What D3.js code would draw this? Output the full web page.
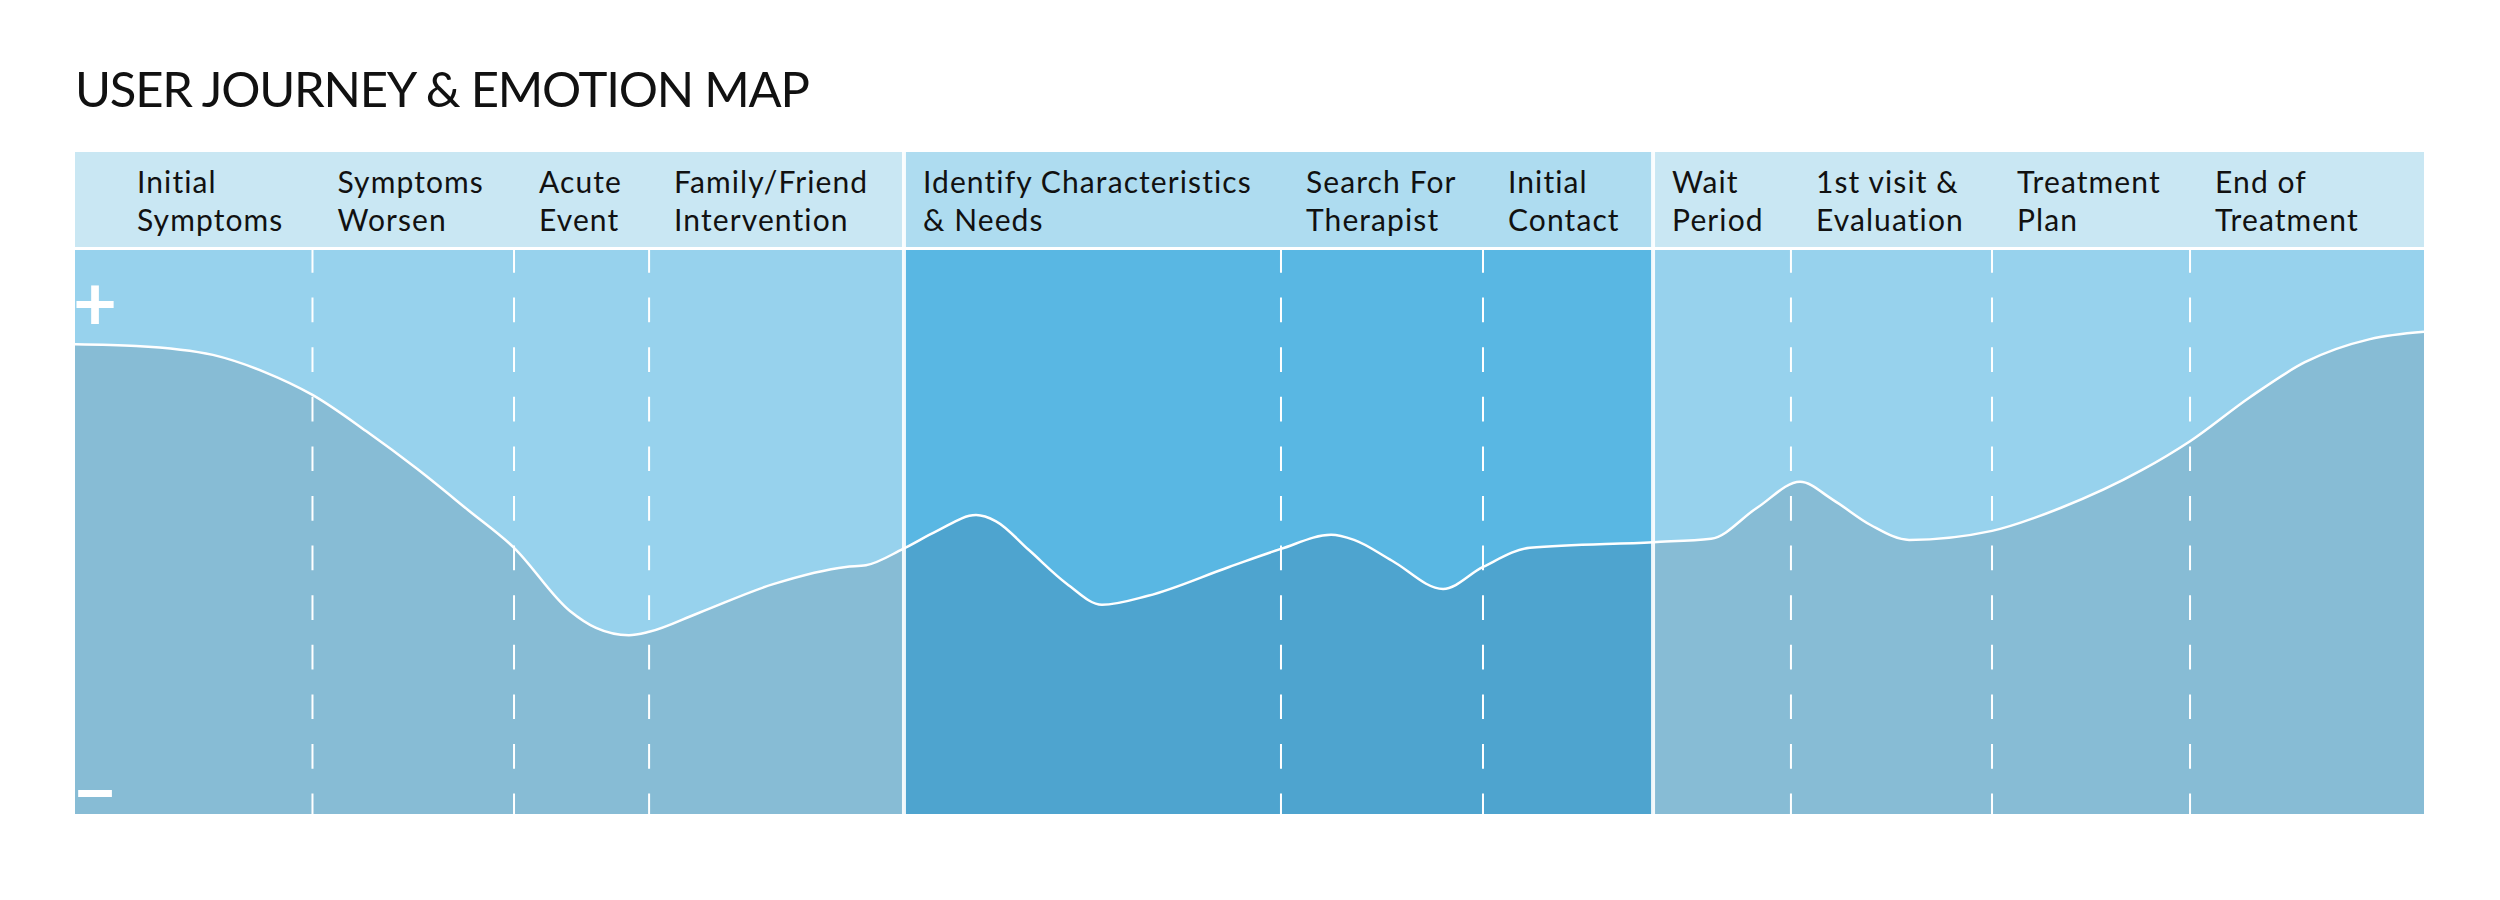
<!DOCTYPE html>
<html>
<head>
<meta charset="utf-8">
<script src="https://cdn.jsdelivr.net/npm/d3@7/dist/d3.min.js"></script>
<style>
  html, body { margin: 0; padding: 0; background: #ffffff; }
  svg { display: block; }
</style>
</head>
<body>
<svg id="chart" width="2500" height="900"></svg>
<script>
// ---------------- DATA ----------------
const title = "USER JOURNEY & EMOTION MAP";

// journey steps (two-line labels) and where each step starts on the 0–100 journey axis
const stepLabels = [
  ["Initial", "Symptoms"],
  ["Symptoms", "Worsen"],
  ["Acute", "Event"],
  ["Family/Friend", "Intervention"],
  ["Identify Characteristics", "& Needs"],
  ["Search For", "Therapist"],
  ["Initial", "Contact"],
  ["Wait", "Period"],
  ["1st visit &", "Evaluation"],
  ["Treatment", "Plan"],
  ["End of", "Treatment"]
];
const stepStarts = [0, 10.11, 18.69, 24.44, 35.29, 51.34, 59.94, 67.18, 73.05, 81.61, 90.04];

// three phases (bounded by solid dividers)
const phaseBounds = [0, 35.29, 67.18, 100];

// emotion curve: journey position (0–100) and emotion level (0 = "−", 100 = top)
const emotionX = [0, 2.60, 5.87, 8.05, 10.11, 12.39, 14.56, 16.73, 18.69, 21.07, 22.18, 23.58, 24.44,
  26.52, 29.76, 32.82, 33.67, 35.25, 36.70, 38.36, 39.21, 40.61, 42.23, 43.72, 45.68, 49.13, 51.34,
  53.47, 54.45, 56.07, 58.24, 59.94, 61.94, 67.18, 69.65, 71.61, 73.44, 74.84, 76.46, 78.08, 81.61,
  84.55, 88.00, 90.04, 92.59, 94.93, 97.70, 100];
const emotionY = [83.3, 83.0, 81.4, 78.4, 74.3, 67.9, 61.2, 53.9, 47.2, 36.0, 33.0, 31.7, 32.3,
  35.6, 40.8, 43.8, 44.1, 47.0, 50.2, 53.0, 51.9, 46.8, 40.8, 37.1, 38.7, 43.8, 47.0,
  49.5, 48.6, 44.9, 39.9, 43.8, 47.2, 48.2, 48.8, 54.3, 58.9, 55.7, 51.2, 48.6, 50.2,
  54.3, 61.0, 66.1, 73.9, 80.1, 84.2, 85.5];

const axisMarks = ["+", "\u2212"];

// ---------------- STYLE ----------------
const headerColors = ["#c9e7f3", "#aedcf0", "#c9e7f3"];
const upperColors  = ["#97d2ed", "#59b7e3", "#97d2ed"];
const lowerColors  = ["#87bcd5", "#4ea4cf", "#87bcd5"];
const FONT = "Lato, 'Open Sans', sans-serif";

const headerTop = 152, headerBottom = 247, bodyTop = 250, bodyBottom = 814;

const svg = d3.select("#chart");
const x = d3.scaleLinear().domain([0, 100]).range([75, 2424]);
const y = d3.scaleLinear().domain([0, 100]).range([bodyBottom, bodyTop]);

// title
const titleEl = svg.append("text")
  .attr("x", 75).attr("y", 107)
  .attr("font-family", FONT).attr("font-size", 49)
  .attr("fill", "#111").text(title);
{
  const w = titleEl.node().getComputedTextLength();
  const ls = (735 - w) / (title.length - 1);
  titleEl.attr("letter-spacing", ls);
}

const phases = d3.range(phaseBounds.length - 1).map(i => ({ i, a: phaseBounds[i], b: phaseBounds[i + 1] }));

// header band
svg.selectAll("rect.head").data(phases).join("rect")
  .attr("x", d => x(d.a)).attr("y", headerTop)
  .attr("width", d => x(d.b) - x(d.a)).attr("height", headerBottom - headerTop)
  .attr("fill", d => headerColors[d.i]);

// body upper colour
svg.selectAll("rect.body").data(phases).join("rect")
  .attr("x", d => x(d.a)).attr("y", bodyTop)
  .attr("width", d => x(d.b) - x(d.a)).attr("height", bodyBottom - bodyTop)
  .attr("fill", d => upperColors[d.i]);

// clip paths per phase
const defs = svg.append("defs");
phases.forEach(p => {
  defs.append("clipPath").attr("id", "clip" + p.i)
    .append("rect").attr("x", x(p.a)).attr("y", bodyTop)
    .attr("width", x(p.b) - x(p.a)).attr("height", bodyBottom - bodyTop);
});

const pts = emotionX.map((v, k) => [v, emotionY[k]]);
const area = d3.area().x(d => x(d[0])).y0(y(0)).y1(d => y(d[1])).curve(d3.curveMonotoneX);
const line = d3.line().x(d => x(d[0])).y(d => y(d[1])).curve(d3.curveMonotoneX);

phases.forEach(p => {
  svg.append("path").datum(pts)
    .attr("clip-path", "url(#clip" + p.i + ")")
    .attr("fill", lowerColors[p.i]).attr("d", area);
});

// dashed step separators
const dashed = stepStarts.filter(s => !phaseBounds.includes(s));
svg.selectAll("line.step").data(dashed).join("line")
  .attr("x1", d => x(d)).attr("x2", d => x(d))
  .attr("y1", bodyTop - 2).attr("y2", bodyBottom)
  .attr("stroke", "#fff").attr("stroke-width", 2)
  .attr("stroke-dasharray", "24.7 24.9");

// white header/body separator
svg.append("rect").attr("x", x(0)).attr("y", headerBottom)
  .attr("width", x(100) - x(0)).attr("height", bodyTop - headerBottom).attr("fill", "#fff");

// phase dividers
svg.selectAll("line.phase").data(phaseBounds.slice(1, -1)).join("line")
  .attr("x1", d => x(d)).attr("x2", d => x(d))
  .attr("y1", headerTop).attr("y2", bodyBottom)
  .attr("stroke", "#fff").attr("stroke-width", 4).attr("stroke-opacity", 0.9);

// emotion line
svg.append("path").datum(pts)
  .attr("fill", "none").attr("stroke", "#fff").attr("stroke-width", 2.5)
  .attr("d", line);

// step labels
const labelG = svg.selectAll("text.step").data(stepLabels).join("text")
  .attr("font-family", FONT).attr("font-size", 30).attr("fill", "#111")
  .attr("letter-spacing", 1.1)
  .attr("transform", (d, k) => {
    const s = stepStarts[k];
    const pad = k === 0 ? 62 : (phaseBounds.includes(s) ? 19 : 25);
    return `translate(${x(s) + pad},0)`;
  });
labelG.selectAll("tspan").data(d => d).join("tspan")
  .attr("x", 0).attr("y", (d, k) => k === 0 ? 193 : 231).text(d => d);

// + / − marks
svg.selectAll("text.mark").data(axisMarks).join("text")
  .attr("x", 95).attr("y", (d, k) => k === 0 ? y(100) + 80 : y(0) + 5)
  .attr("text-anchor", "middle")
  .attr("font-family", FONT).attr("font-weight", 700).attr("font-size", 76)
  .attr("fill", "#fff").text(d => d);
</script>
</body>
</html>
